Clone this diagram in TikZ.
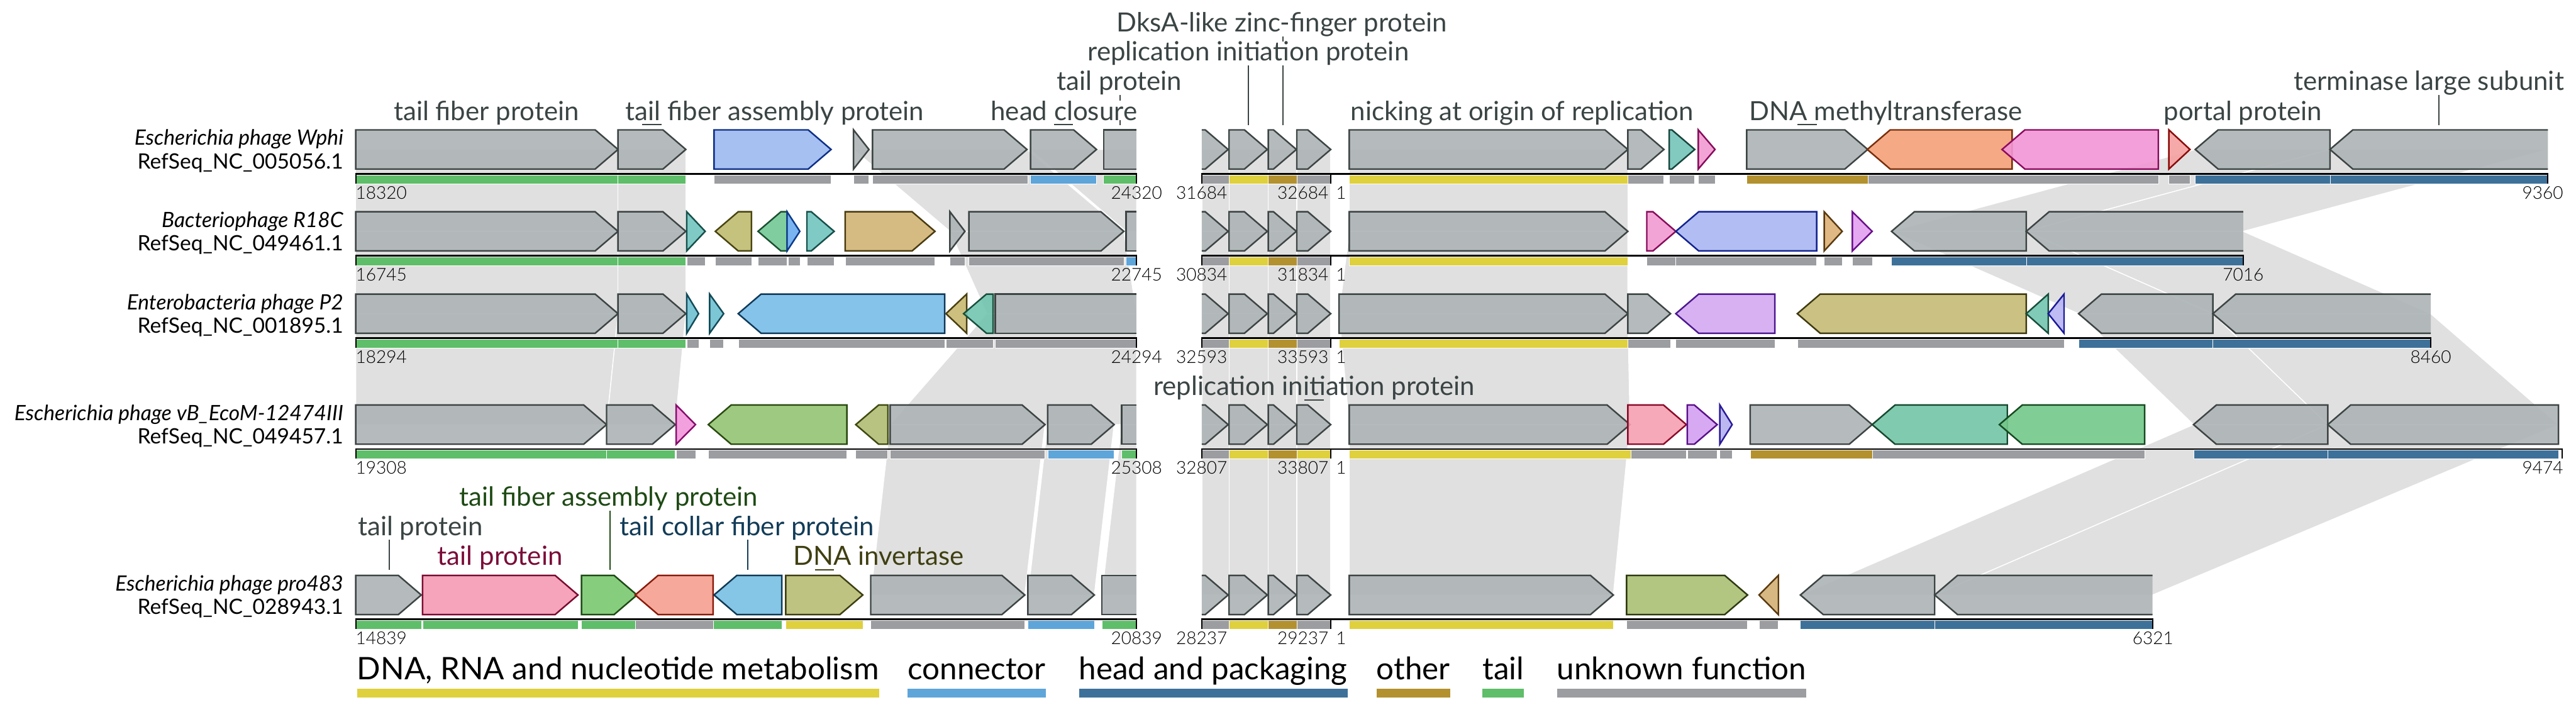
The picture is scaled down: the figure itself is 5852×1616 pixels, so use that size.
\documentclass[tikz,border=0pt]{standalone}
\usepackage{fontspec}
\setmainfont{Lato}
\IfFontExistsTF{Lato Light}{\newfontfamily\numfont{Lato Light}}{\newfontfamily\numfont{Lato}}

\definecolor{genegray}{HTML}{ADB4B5}
\definecolor{geneline}{HTML}{3D4444}
\definecolor{linkgray}{HTML}{E0E0E0}
\definecolor{labgray}{HTML}{3B4444}
\definecolor{labgreen}{HTML}{1E4A14}
\definecolor{labred}{HTML}{7A0C38}
\definecolor{labnavy}{HTML}{123C58}
\definecolor{labolive}{HTML}{3F3F12}
% function categories
\definecolor{catdna}{HTML}{DFD03E}
\definecolor{catcon}{HTML}{5EA5DA}
\definecolor{cathead}{HTML}{3D7199}
\definecolor{catoth}{HTML}{B3912F}
\definecolor{cattail}{HTML}{5FBE69}
\definecolor{catunk}{HTML}{9C9DA1}
% gene fills (f) and outlines (d)
\definecolor{blueAf}{HTML}{9BB9F0}\definecolor{blueAd}{HTML}{0E2F88}
\definecolor{tealAf}{HTML}{74C4B8}\definecolor{tealAd}{HTML}{17453C}
\definecolor{pinkAf}{HTML}{F29AD2}\definecolor{pinkAd}{HTML}{870C5C}
\definecolor{oranAf}{HTML}{F5A078}\definecolor{oranAd}{HTML}{7A2E0B}
\definecolor{pinkBf}{HTML}{F296D6}\definecolor{pinkBd}{HTML}{8B0A5E}
\definecolor{redAf}{HTML}{F5A0A0}\definecolor{redAd}{HTML}{8B0A0A}
\definecolor{tealBf}{HTML}{72C4C0}\definecolor{tealBd}{HTML}{16504A}
\definecolor{oliveAf}{HTML}{BFBB70}\definecolor{oliveAd}{HTML}{4A4410}
\definecolor{mintAf}{HTML}{72C896}\definecolor{mintAd}{HTML}{1A5030}
\definecolor{blueBf}{HTML}{6AACF0}\definecolor{blueBd}{HTML}{0C3A8A}
\definecolor{tanAf}{HTML}{D0B474}\definecolor{tanAd}{HTML}{4A3A10}
\definecolor{periAf}{HTML}{AAB6F2}\definecolor{periAd}{HTML}{12238F}
\definecolor{tanBf}{HTML}{DDB076}\definecolor{tanBd}{HTML}{5A3A10}
\definecolor{lavAf}{HTML}{E2A0F0}\definecolor{lavAd}{HTML}{6A108A}
\definecolor{cyanAf}{HTML}{6FC0D0}\definecolor{cyanAd}{HTML}{124A58}
\definecolor{blueCf}{HTML}{78BDE8}\definecolor{blueCd}{HTML}{0F3A5A}
\definecolor{oliveBf}{HTML}{C8B870}\definecolor{oliveBd}{HTML}{4A4010}
\definecolor{mintBf}{HTML}{72C4B0}\definecolor{mintBd}{HTML}{17503C}
\definecolor{lavBf}{HTML}{D4A8F2}\definecolor{lavBd}{HTML}{4D1890}
\definecolor{khakiAf}{HTML}{C4BA74}\definecolor{khakiAd}{HTML}{3E3A10}
\definecolor{periBf}{HTML}{B8B4F2}\definecolor{periBd}{HTML}{1A1A9A}
\definecolor{pinkCf}{HTML}{F296DC}\definecolor{pinkCd}{HTML}{870C6C}
\definecolor{greenAf}{HTML}{92C472}\definecolor{greenAd}{HTML}{2A4A10}
\definecolor{oliveCf}{HTML}{B0BC74}\definecolor{oliveCd}{HTML}{3E4A10}
\definecolor{roseAf}{HTML}{F5A0B0}\definecolor{roseAd}{HTML}{8B0A2A}
\definecolor{lavCf}{HTML}{D4A0F2}\definecolor{lavCd}{HTML}{5A108A}
\definecolor{periCf}{HTML}{B4B0F0}\definecolor{periCd}{HTML}{2A1A9A}
\definecolor{mintCf}{HTML}{72C4A6}\definecolor{mintCd}{HTML}{174A30}
\definecolor{greenBf}{HTML}{72C88A}\definecolor{greenBd}{HTML}{174A20}
\definecolor{pinkDf}{HTML}{F49AB4}\definecolor{pinkDd}{HTML}{7A0A30}
\definecolor{greenCf}{HTML}{7AC870}\definecolor{greenCd}{HTML}{1E4A14}
\definecolor{salmAf}{HTML}{F5A090}\definecolor{salmAd}{HTML}{8A1A0A}
\definecolor{blueDf}{HTML}{78BFE2}\definecolor{blueDd}{HTML}{0F3A55}
\definecolor{oliveDf}{HTML}{B8BC74}\definecolor{oliveDd}{HTML}{3E3E12}
\definecolor{oliveEf}{HTML}{AAC074}\definecolor{oliveEd}{HTML}{2E3A10}
\definecolor{tanCf}{HTML}{D4B074}\definecolor{tanCd}{HTML}{5A3A10}

% gene arrows: start, end, y of the sequence line, fill, outline
\newcommand{\genef}[5]{%
  \pgfmathsetmacro\gtop{#3-100}\pgfmathsetmacro\gbot{#3-11}%
  \pgfmathsetmacro\gmid{#3-55.5}\pgfmathsetmacro\ghd{max(#1,#2-52)}%
  \filldraw[genebox,fill=#4,draw=#5] (#1,\gtop) -- (\ghd,\gtop) -- (#2,\gmid)
    -- (\ghd,\gbot) -- (#1,\gbot) -- cycle;}
\newcommand{\gener}[5]{%
  \pgfmathsetmacro\gtop{#3-100}\pgfmathsetmacro\gbot{#3-11}%
  \pgfmathsetmacro\gmid{#3-55.5}\pgfmathsetmacro\ghd{min(#2,#1+52)}%
  \filldraw[genebox,fill=#4,draw=#5] (#2,\gtop) -- (\ghd,\gtop) -- (#1,\gmid)
    -- (\ghd,\gbot) -- (#2,\gbot) -- cycle;}
% cut genes at the window ends: no outline on the cut side
\newcommand{\genefL}[3]{%
  \pgfmathsetmacro\gtop{#3-100}\pgfmathsetmacro\gbot{#3-11}%
  \pgfmathsetmacro\gmid{#3-55.5}\pgfmathsetmacro\ghd{max(#1,#2-52)}%
  \fill[genebox,fill=genegray] (#1,\gtop) -- (\ghd,\gtop) -- (#2,\gmid) -- (\ghd,\gbot) -- (#1,\gbot) -- cycle;
  \draw[genebox,draw=geneline] (#1,\gtop) -- (\ghd,\gtop) -- (#2,\gmid) -- (\ghd,\gbot) -- (#1,\gbot);}
\newcommand{\generR}[3]{%
  \pgfmathsetmacro\gtop{#3-100}\pgfmathsetmacro\gbot{#3-11}%
  \pgfmathsetmacro\gmid{#3-55.5}\pgfmathsetmacro\ghd{min(#2,#1+52)}%
  \fill[genebox,fill=genegray] (#2,\gtop) -- (\ghd,\gtop) -- (#1,\gmid) -- (\ghd,\gbot) -- (#2,\gbot) -- cycle;
  \draw[genebox,draw=geneline] (#2,\gtop) -- (\ghd,\gtop) -- (#1,\gmid) -- (\ghd,\gbot) -- (#2,\gbot);}
\newcommand{\geneB}[3]{%
  \fill[genebox,fill=genegray] (#1,#3-100) rectangle (#2,#3-11);
  \draw[genebox,draw=geneline] (#2,#3-100) -- (#1,#3-100) -- (#1,#3-11) -- (#2,#3-11);}
% category bar under a gene
\newcommand{\catbar}[4]{\filldraw[catbox,fill=#4] (#1,#3+2) rectangle (#2,#3+22);}
% homology band between two rows
\newcommand{\homlink}[6]{\filldraw[linkband] (#1,#3-55.5) -- (#2,#3-55.5) -- (#5,#6-55.5) -- (#4,#6-55.5) -- cycle;}
% the 1000 bp middle window is the same in every row
\newcommand{\segBlinks}[2]{%
  \homlink{2730}{2792}{#1}{2730}{2792}{#2}\homlink{2792}{2881}{#1}{2792}{2881}{#2}%
  \homlink{2881}{2946}{#1}{2881}{2946}{#2}\homlink{2946}{3023}{#1}{2946}{3023}{#2}}
\newcommand{\segBgenes}[1]{%
  \genefL{2730}{2790}{#1}\genef{2792}{2879}{#1}{genegray}{geneline}%
  \genef{2881}{2945}{#1}{genegray}{geneline}\genef{2946}{3023}{#1}{genegray}{geneline}}
\newcommand{\segBbars}[2]{%
  \catbar{2730}{2792}{#1}{catunk}\catbar{2792}{2881}{#1}{catdna}%
  \catbar{2881}{2946}{#1}{catoth}\catbar{2946}{3023}{#1}{#2}}
% sequence line with end ticks
\newcommand{\trackline}[2]{%
  \draw[seqline] (808,#1) -- (2582,#1) (2730,#1) -- (#2,#1);
  \foreach \tx in {808,2582,2730,3023,#2} \draw[endtick] (\tx,#1-2) -- (\tx,#1+22);}
% positions under a row: prefix, line y, four window ends, anchor and x of the last
\newcommand{\poslabels}[9]{%
  \node (#1s) at (808,#2+57) [coord,anchor=base west] {#3};
  \node (#1e) at (2582,#2+57) [coord,anchor=base] {#4};
  \node (#1bs) at (2730,#2+57) [coord,anchor=base] {#5};
  \node (#1be) at (3018,#2+57) [coord,anchor=base east] {#6};
  \node (#1c) at (3035,#2+57) [coord,anchor=base west] {1};
  \node (#1ce) at (#8,#2+57) [coord,anchor=#7] {#9};}

\begin{document}
\begin{tikzpicture}
[x=1pt,y=-1pt,
 genebox/.style={line width=3.5pt,fill opacity=0.9},
 linkband/.style={fill=linkgray,draw=white,line width=2pt},
 catbox/.style={draw=white,line width=0.8pt},
 seqline/.style={line width=4pt,draw=black},
 endtick/.style={line width=3pt,draw=black},
 lab/.style={inner sep=0pt,anchor=base,text=labgray,font=\fontsize{60}{60}\selectfont},
 halo/.style={fill=white},
 leader/.style={line width=3pt,draw=labgray},
 orgname/.style={inner sep=0pt,anchor=base east,font=\fontsize{48}{48}\selectfont},
 coord/.style={inner sep=0pt,font=\numfont\fontsize{40}{40}\selectfont},
 lgd/.style={inner sep=0pt,anchor=base west,font=\fontsize{70.5}{70.5}\selectfont}]
\useasboundingbox (0,0) rectangle (5852,1616);

% homology bands
\homlink{808}{1404}{395}{808}{1404}{581}
\homlink{1404}{1558}{395}{1404}{1558}{581}
\homlink{1939}{2333}{395}{2158}{2553}{581}
\homlink{2341}{2582}{395}{2558}{2582}{581}
\segBlinks{395}{581}
\homlink{3065}{3698}{395}{3065}{3698}{581}
\homlink{4987}{5293}{395}{4297}{4603}{581}
\homlink{5293}{5788}{395}{4603}{5096}{581}

\homlink{808}{1404}{581}{808}{1404}{768}
\homlink{1404}{1558}{581}{1404}{1558}{768}
\homlink{2158}{2553}{581}{2242}{2582}{768}
\segBlinks{581}{768}
\homlink{3065}{3698}{581}{3042}{3698}{768}
\homlink{4297}{4603}{581}{4722}{5027}{768}
\homlink{4603}{5096}{581}{5027}{5522}{768}

\homlink{808}{1404}{768}{808}{1378}{1020}
\homlink{1404}{1558}{768}{1378}{1534}{1020}
\homlink{2242}{2582}{768}{2022}{2582}{1020}
\segBlinks{768}{1020}
\homlink{3042}{3698}{768}{3065}{3703}{1020}
\homlink{4722}{5027}{768}{4983}{5288}{1020}
\homlink{5027}{5522}{768}{5288}{5812}{1020}

\homlink{2022}{2374}{1020}{1978}{2328}{1407}
\homlink{2380}{2531}{1020}{2335}{2486}{1407}
\homlink{2548}{2582}{1020}{2503}{2582}{1407}
\segBlinks{1020}{1407}
\homlink{3065}{3703}{1020}{3065}{3665}{1407}
\homlink{4983}{5288}{1020}{4090}{4395}{1407}
\homlink{5288}{5812}{1020}{4395}{4890}{1407}

% row 1: Escherichia phage Wphi
\catbar{808}{1404}{395}{cattail}\catbar{1404}{1558}{395}{cattail}
\catbar{1622}{1888}{395}{catunk}\catbar{1939}{1974}{395}{catunk}
\catbar{1982}{2335}{395}{catunk}\catbar{2341}{2491}{395}{catcon}
\catbar{2507}{2582}{395}{cattail}
\segBbars{395}{catunk}
\catbar{3065}{3698}{395}{catdna}\catbar{3698}{3780}{395}{catunk}
\catbar{3792}{3850}{395}{catunk}\catbar{3858}{3896}{395}{catunk}
\catbar{3968}{4243}{395}{catoth}\catbar{4243}{4903}{395}{catunk}
\catbar{4927}{4975}{395}{catunk}\catbar{4987}{5293}{395}{cathead}
\catbar{5293}{5788}{395}{cathead}
\trackline{395}{5788}
\genef{808}{1404}{395}{genegray}{geneline}
\genef{1404}{1558}{395}{genegray}{geneline}
\genef{1622}{1888}{395}{blueAf}{blueAd}
\genef{1939}{1974}{395}{genegray}{geneline}
\genef{1982}{2333}{395}{genegray}{geneline}
\genef{2341}{2491}{395}{genegray}{geneline}
\geneB{2507}{2582}{395}
\segBgenes{395}
\genef{3065}{3698}{395}{genegray}{geneline}
\genef{3698}{3780}{395}{genegray}{geneline}
\genef{3792}{3850}{395}{tealAf}{tealAd}
\genef{3858}{3896}{395}{pinkAf}{pinkAd}
\genef{3968}{4243}{395}{genegray}{geneline}
\gener{4242}{4571}{395}{oranAf}{oranAd}
\gener{4548}{4903}{395}{pinkBf}{pinkBd}
\genef{4927}{4975}{395}{redAf}{redAd}
\gener{4987}{5293}{395}{genegray}{geneline}
\generR{5293}{5788}{395}

% row 2: Bacteriophage R18C
\catbar{808}{1404}{581}{cattail}\catbar{1404}{1558}{581}{cattail}
\catbar{1560}{1602}{581}{catunk}\catbar{1625}{1707}{581}{catunk}
\catbar{1722}{1788}{581}{catunk}\catbar{1790}{1817}{581}{catunk}
\catbar{1833}{1895}{581}{catunk}\catbar{1920}{2124}{581}{catunk}
\catbar{2158}{2192}{581}{catunk}\catbar{2201}{2553}{581}{catunk}
\catbar{2558}{2582}{581}{catcon}
\segBbars{581}{catunk}
\catbar{3065}{3698}{581}{catdna}\catbar{3741}{3807}{581}{catunk}
\catbar{3807}{4127}{581}{catunk}\catbar{4144}{4185}{581}{catunk}
\catbar{4208}{4253}{581}{catunk}\catbar{4297}{4603}{581}{cathead}
\catbar{4603}{5096}{581}{cathead}
\trackline{581}{5096}
\genef{808}{1404}{581}{genegray}{geneline}
\genef{1404}{1558}{581}{genegray}{geneline}
\genef{1560}{1602}{581}{tealBf}{tealBd}
\gener{1625}{1707}{581}{oliveAf}{oliveAd}
\gener{1722}{1788}{581}{mintAf}{mintAd}
\genef{1788}{1817}{581}{blueBf}{blueBd}
\genef{1833}{1895}{581}{tealBf}{tealBd}
\genef{1920}{2124}{581}{tanAf}{tanAd}
\genef{2158}{2192}{581}{genegray}{geneline}
\genef{2201}{2553}{581}{genegray}{geneline}
\geneB{2558}{2582}{581}
\segBgenes{581}
\genef{3065}{3698}{581}{genegray}{geneline}
\genef{3741}{3807}{581}{pinkAf}{pinkAd}
\gener{3807}{4127}{581}{periAf}{periAd}
\genef{4144}{4185}{581}{tanBf}{tanBd}
\genef{4208}{4253}{581}{lavAf}{lavAd}
\gener{4297}{4603}{581}{genegray}{geneline}
\generR{4603}{5096}{581}

% row 3: Enterobacteria phage P2
\catbar{808}{1404}{768}{cattail}\catbar{1404}{1558}{768}{cattail}
\catbar{1560}{1587}{768}{catunk}\catbar{1612}{1644}{768}{catunk}
\catbar{1677}{2146}{768}{catunk}\catbar{2149}{2256}{768}{catunk}
\catbar{2261}{2582}{768}{catunk}
\segBbars{768}{catunk}
\catbar{3042}{3698}{768}{catdna}\catbar{3698}{3795}{768}{catunk}
\catbar{3807}{4032}{768}{catunk}\catbar{4083}{4689}{768}{catunk}
\catbar{4722}{5027}{768}{cathead}\catbar{5027}{5522}{768}{cathead}
\trackline{768}{5522}
\genef{808}{1404}{768}{genegray}{geneline}
\genef{1404}{1558}{768}{genegray}{geneline}
\genef{1560}{1587}{768}{cyanAf}{cyanAd}
\genef{1612}{1644}{768}{cyanAf}{cyanAd}
\gener{1677}{2146}{768}{blueCf}{blueCd}
\gener{2149}{2196}{768}{oliveBf}{oliveBd}
\gener{2189}{2256}{768}{mintBf}{mintBd}
\geneB{2261}{2582}{768}
\segBgenes{768}
\genef{3042}{3698}{768}{genegray}{geneline}
\genef{3698}{3795}{768}{genegray}{geneline}
\gener{3807}{4032}{768}{lavBf}{lavBd}
\gener{4083}{4603}{768}{khakiAf}{khakiAd}
\gener{4603}{4653}{768}{mintBf}{mintBd}
\gener{4653}{4689}{768}{periBf}{periBd}
\gener{4722}{5027}{768}{genegray}{geneline}
\generR{5027}{5522}{768}

% row 4: Escherichia phage vB_EcoM-12474III
\catbar{808}{1378}{1020}{cattail}\catbar{1378}{1534}{1020}{cattail}
\catbar{1536}{1580}{1020}{catunk}\catbar{1609}{1924}{1020}{catunk}
\catbar{1944}{2017}{1020}{catunk}\catbar{2022}{2374}{1020}{catunk}
\catbar{2380}{2531}{1020}{catcon}\catbar{2548}{2582}{1020}{cattail}
\segBbars{1020}{catdna}
\catbar{3065}{3705}{1020}{catdna}\catbar{3705}{3831}{1020}{catunk}
\catbar{3833}{3901}{1020}{catunk}\catbar{3907}{3935}{1020}{catunk}
\catbar{3976}{4253}{1020}{catoth}\catbar{4253}{4872}{1020}{catunk}
\catbar{4983}{5288}{1020}{cathead}\catbar{5288}{5812}{1020}{cathead}
\trackline{1020}{5821}
\genef{808}{1378}{1020}{genegray}{geneline}
\genef{1378}{1534}{1020}{genegray}{geneline}
\genef{1536}{1580}{1020}{pinkCf}{pinkCd}
\gener{1609}{1924}{1020}{greenAf}{greenAd}
\gener{1944}{2017}{1020}{oliveCf}{oliveCd}
\genef{2022}{2374}{1020}{genegray}{geneline}
\genef{2380}{2531}{1020}{genegray}{geneline}
\geneB{2548}{2582}{1020}
\segBgenes{1020}
\genef{3065}{3703}{1020}{genegray}{geneline}
\genef{3698}{3831}{1020}{roseAf}{roseAd}
\genef{3833}{3901}{1020}{lavCf}{lavCd}
\genef{3907}{3935}{1020}{periCf}{periCd}
\genef{3976}{4253}{1020}{genegray}{geneline}
\gener{4253}{4560}{1020}{mintCf}{mintCd}
\gener{4542}{4872}{1020}{greenBf}{greenBd}
\gener{4983}{5288}{1020}{genegray}{geneline}
\gener{5288}{5812}{1020}{genegray}{geneline}

% row 5: Escherichia phage pro483
\catbar{808}{957}{1407}{cattail}\catbar{960}{1313}{1407}{cattail}
\catbar{1321}{1443}{1407}{cattail}\catbar{1443}{1620}{1407}{catunk}
\catbar{1620}{1776}{1407}{cattail}\catbar{1785}{1960}{1407}{catdna}
\catbar{1978}{2328}{1407}{catunk}\catbar{2335}{2486}{1407}{catcon}
\catbar{2503}{2582}{1407}{cattail}
\segBbars{1407}{catunk}
\catbar{3065}{3665}{1407}{catdna}\catbar{3695}{3970}{1407}{catunk}
\catbar{3996}{4040}{1407}{catunk}\catbar{4090}{4395}{1407}{cathead}
\catbar{4395}{4890}{1407}{cathead}
\trackline{1407}{4890}
\genef{808}{957}{1407}{genegray}{geneline}
\genef{960}{1313}{1407}{pinkDf}{pinkDd}
\genef{1321}{1447}{1407}{greenCf}{greenCd}
\gener{1443}{1620}{1407}{salmAf}{salmAd}
\gener{1622}{1776}{1407}{blueDf}{blueDd}
\genef{1785}{1960}{1407}{oliveDf}{oliveDd}
\genef{1978}{2328}{1407}{genegray}{geneline}
\genef{2335}{2486}{1407}{genegray}{geneline}
\geneB{2503}{2582}{1407}
\segBgenes{1407}
\genef{3065}{3665}{1407}{genegray}{geneline}
\genef{3695}{3970}{1407}{oliveEf}{oliveEd}
\gener{3996}{4040}{1407}{tanCf}{tanCd}
\gener{4090}{4395}{1407}{genegray}{geneline}
\generR{4395}{4890}{1407}

% genome names
\node (r1n) at (780,330) [orgname] {\itshape Escherichia phage Wphi};
\node (r1id) at (780,383) [orgname] {RefSeq\_NC\_005056.1};
\node (r2n) at (780,516) [orgname] {\itshape Bacteriophage R18C};
\node (r2id) at (780,569) [orgname] {RefSeq\_NC\_049461.1};
\node (r3n) at (780,703) [orgname] {\itshape Enterobacteria phage P2};
\node (r3id) at (780,756) [orgname] {RefSeq\_NC\_001895.1};
\node (r4n) at (780,955) [orgname] {\itshape Escherichia phage vB\_EcoM-12474III};
\node (r4id) at (780,1008) [orgname] {RefSeq\_NC\_049457.1};
\node (r5n) at (780,1342) [orgname] {\itshape Escherichia phage pro483};
\node (r5id) at (780,1395) [orgname] {RefSeq\_NC\_028943.1};

% window coordinates
\poslabels{p1}{395}{18320}{24320}{31684}{32684}{base east}{5823}{9360}
\poslabels{p2}{581}{16745}{22745}{30834}{31834}{base}{5096}{7016}
\poslabels{p3}{768}{18294}{24294}{32593}{33593}{base}{5522}{8460}
\poslabels{p4}{1020}{19308}{25308}{32807}{33807}{base east}{5823}{9474}
\poslabels{p5}{1407}{14839}{20839}{28237}{29237}{base}{4891}{6321}

% gene annotations
\coordinate (tprG) at (2545,285);
\coordinate (dksG) at (2914,285);
\coordinate (ripG) at (2836,285);
\coordinate (tlsG) at (5540,285);
\coordinate (tp5aG) at (885,1295);
\coordinate (tfa5G) at (1386,1295);
\coordinate (tcf5G) at (1699,1295);
\node (dks) at (2912,72) [lab] {DksA-like zinc-finger protein};
\node (tpr) at (2543,205) [lab] {tail protein};
\node (tls) at (5518,205) [lab] {terminase large subunit};
\node (tp5a) at (955,1216) [lab] {tail protein};
\node (tfa5) at (1383,1149) [lab,text=labgreen] {tail fiber assembly protein};
\node (tcf5) at (1697,1216) [lab,text=labnavy] {tail collar fiber protein};
\draw[leader] (dks.south -| dksG) -- (dksG);
\draw[leader] (tpr.south -| tprG) -- (tprG);
\draw[leader] (tls.south -| tlsG) -- (tlsG);
\draw[leader] (tp5a.south -| tp5aG) -- (tp5aG);
\draw[leader,draw=labgreen] (tfa5.south -| tfa5G) -- (tfa5G);
\draw[leader,draw=labnavy] (tcf5.south -| tcf5G) -- (tcf5G);
\node (rip) at (2836,138) [lab,halo] {replication initiation protein};
\draw[leader] (rip.south -| ripG) -- (ripG);
\node (tfp) at (1105,273) [lab] {tail fiber protein};
\node (tfa) at (1760,273) [lab] {tail fiber assembly protein};
\node (hcl) at (2417,273) [lab,halo] {head closure};
\node (nor) at (3458,273) [lab] {nicking at origin of replication};
\node (dmt) at (4284,273) [lab] {DNA methyltransferase};
\node (ppr) at (5095,273) [lab] {portal protein};
\node (rip4) at (2985,898) [lab] {replication initiation protein};
\node (tp5b) at (1136,1283) [lab,text=labred] {tail protein};
\node (din5) at (1996,1283) [lab,text=labolive] {DNA invertase};
\coordinate (tfaG) at (1481,283);
\coordinate (hclG) at (2416,283);
\coordinate (dmtG) at (4105,283);
\coordinate (rip4G) at (2985,909);
\coordinate (din5G) at (1873,1295);
\draw[leader] ([xshift=-22pt]tfaG) -- ([xshift=22pt]tfaG);
\draw[leader] ([xshift=-22pt]hclG) -- ([xshift=22pt]hclG);
\draw[leader] ([xshift=-22pt]dmtG) -- ([xshift=22pt]dmtG);
\draw[leader] ([xshift=-22pt]rip4G) -- ([xshift=22pt]rip4G);
\draw[leader,draw=labolive] ([xshift=-22pt]din5G) -- ([xshift=22pt]din5G);

% legend
\node (lgdna) at (811,1544) [lgd] {DNA, RNA and nucleotide metabolism};
\node (lgcon) at (2062,1544) [lgd] {connector};
\node (lghead) at (2451,1544) [lgd] {head and packaging};
\node (lgoth) at (3127,1544) [lgd] {other};
\node (lgtail) at (3368,1544) [lgd] {tail};
\node (lgunk) at (3537,1544) [lgd] {unknown function};
\fill[catdna] (lgdna.west |- 0,1565) rectangle (lgdna.east |- 0,1585);
\fill[catcon] (lgcon.west |- 0,1565) rectangle (lgcon.east |- 0,1585);
\fill[cathead] (lghead.west |- 0,1565) rectangle (lghead.east |- 0,1585);
\fill[catoth] (lgoth.west |- 0,1565) rectangle (lgoth.east |- 0,1585);
\fill[cattail] (lgtail.west |- 0,1565) rectangle (lgtail.east |- 0,1585);
\fill[catunk] (lgunk.west |- 0,1565) rectangle (lgunk.east |- 0,1585);
\end{tikzpicture}
\end{document}
